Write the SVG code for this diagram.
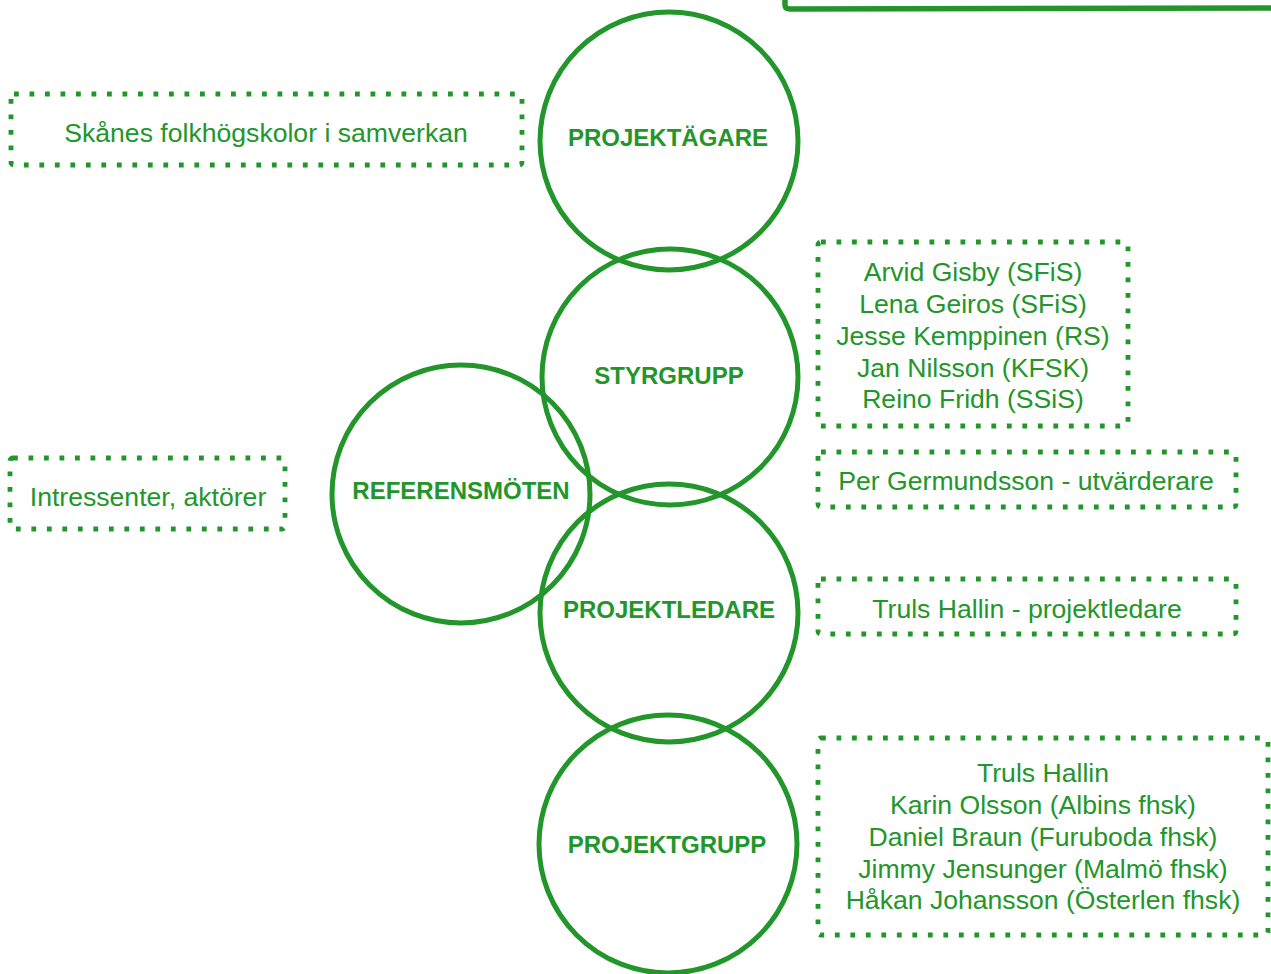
<svg xmlns="http://www.w3.org/2000/svg" width="1271" height="974" viewBox="0 0 1271 974">
<style>
.ring{fill:none;stroke:#22962a;stroke-width:5}
.box{fill:none;stroke:#22962a;stroke-width:4.8;stroke-dasharray:4.8 10.7}
.lbl{font-family:"Liberation Sans",Arial,sans-serif;font-weight:bold;font-size:24px;fill:#22962a;text-anchor:middle}
.txt{font-family:"Liberation Sans",Arial,sans-serif;font-size:26.6px;fill:#22962a;text-anchor:middle}
</style>
<rect width="1271" height="974" fill="#ffffff"/>
<g id="frame-top-right">
<path d="M785 0 L785 5 Q785 9 790 9 L1271 8" fill="none" stroke="#22962a" stroke-width="5.5" stroke-linecap="round"/>
</g>
<g id="connectors"></g>
<g id="projektagare">
<circle class="ring" cx="669" cy="141" r="129"/>
<text class="lbl" x="668" y="146">PROJEKTÄGARE</text>
</g>
<g id="styrgrupp">
<circle class="ring" cx="670" cy="377" r="128"/>
<text class="lbl" x="669" y="384">STYRGRUPP</text>
</g>
<g id="referensmoten">
<circle class="ring" cx="461" cy="494" r="129"/>
<text class="lbl" x="461" y="499">REFERENSMÖTEN</text>
</g>
<g id="projektledare">
<circle class="ring" cx="669" cy="613" r="129"/>
<text class="lbl" x="669" y="618">PROJEKTLEDARE</text>
</g>
<g id="projektgrupp">
<circle class="ring" cx="668" cy="844" r="129"/>
<text class="lbl" x="667" y="853">PROJEKTGRUPP</text>
</g>
<g id="box-skanes">
<rect class="box" x="11" y="94" width="511" height="71" rx="3"/>
<text class="txt" x="266" y="142">Skånes folkhögskolor i samverkan</text>
</g>
<g id="box-styrgrupp">
<rect class="box" x="818" y="242" width="310" height="184" rx="3"/>
<text class="txt" x="973" y="281">Arvid Gisby (SFiS)</text>
<text class="txt" x="973" y="313">Lena Geiros (SFiS)</text>
<text class="txt" x="973" y="345">Jesse Kemppinen (RS)</text>
<text class="txt" x="973" y="377">Jan Nilsson (KFSK)</text>
<text class="txt" x="973" y="408">Reino Fridh (SSiS)</text>
</g>
<g id="box-intressenter">
<rect class="box" x="10" y="458" width="275" height="71" rx="3"/>
<text class="txt" x="148" y="506">Intressenter, aktörer</text>
</g>
<g id="box-utvarderare">
<rect class="box" x="818" y="452" width="418" height="55" rx="3"/>
<text class="txt" x="1026" y="490">Per Germundsson - utvärderare</text>
</g>
<g id="box-projektledare">
<rect class="box" x="818" y="579" width="418" height="55" rx="3"/>
<text class="txt" x="1027" y="618">Truls Hallin - projektledare</text>
</g>
<g id="box-projektgrupp">
<rect class="box" x="818" y="738" width="450" height="197" rx="3"/>
<text class="txt" x="1043" y="782">Truls Hallin</text>
<text class="txt" x="1043" y="814">Karin Olsson (Albins fhsk)</text>
<text class="txt" x="1043" y="846">Daniel Braun (Furuboda fhsk)</text>
<text class="txt" x="1043" y="878">Jimmy Jensunger (Malmö fhsk)</text>
<text class="txt" x="1043" y="909">Håkan Johansson (Österlen fhsk)</text>
</g>
</svg>
